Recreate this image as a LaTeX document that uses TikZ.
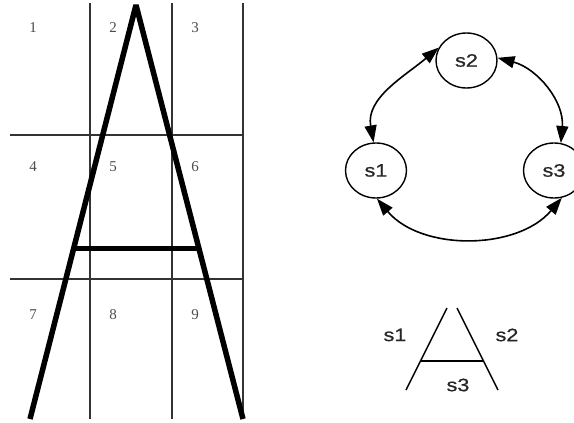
\documentclass[tikz,border=0pt]{standalone}
\usepackage{fontspec}
\setmainfont{Liberation Serif}
\newfontfamily\labfont[FakeStretch=1.2,FakeBold=0.8]{Liberation Sans}
\usetikzlibrary{arrows.meta,shapes.geometric,calc}
\begin{document}
\begin{tikzpicture}[x=1pt,y=-1pt,
  gridline/.style={line width=1.8pt,black!80},
  bigA/.style={line width=5.5pt,line join=bevel},
  num/.style={font=\fontsize{15}{15}\selectfont,text=black!70,inner sep=0pt},
  state/.style={draw,ellipse,line width=1.4pt,minimum width=61pt,minimum height=55pt,inner sep=0pt,font=\labfont\fontsize{18}{18}\selectfont,text=black!85},
  lab/.style={font=\labfont\fontsize{18}{18}\selectfont,text=black!85,inner sep=0pt},
  arr/.style={{Triangle[length=17pt,width=12pt]}-{Triangle[length=17pt,width=12pt]},line width=1.6pt},
  thin/.style={line width=1.5pt}]
\useasboundingbox (0,0) rectangle (574,423);
% grid
\draw[gridline] (90,3) -- (90,419);
\draw[gridline] (172,3) -- (172,419);
\draw[gridline] (243,3) -- (243,419);
\draw[gridline] (10,135) -- (243,135);
\draw[gridline] (10,279) -- (243,279);
% numbers
\node[num] (n1) at (33,28) {1};
\node[num] (n2) at (113,28) {2};
\node[num] (n3) at (195,28) {3};
\node[num] (n4) at (33,167) {4};
\node[num] (n5) at (113,167) {5};
\node[num] (n6) at (195,167) {6};
\node[num] (n7) at (33,315) {7};
\node[num] (n8) at (113,315) {8};
\node[num] (n9) at (195,315) {9};
% big A
\coordinate (AL) at (30,419);
\coordinate (AT) at (136,5);
\coordinate (AR) at (243,419);
\draw[bigA] (AL) -- (AT) -- (AR);
\draw[bigA] ($(AL)!0.4116!(AT)$) -- ($(AR)!0.4116!(AT)$);
% state graph
\node[state] (s2) at (466.5,60.5) {s2};
\node[state] (s1) at (376,170.5) {s1};
\node[state] (s3) at (554,170.5) {s3};
\draw[arr] (s1.95) to[out=100,in=220] (s2.155);
\draw[arr] (s2.5) to[out=-15,in=85] (s3.76);
\draw[arr] (s1.-88) to[out=-50,in=-130,looseness=0.95] (s3.-74);
% small A
\coordinate (bl) at (406,390);
\coordinate (bt1) at (447,308);
\coordinate (bt2) at (457,308);
\coordinate (br) at (498,390);
\draw[thin] (bl) -- (bt1);
\draw[thin] (bt2) -- (br);
\draw[thin] ($(bl)!0.354!(bt1)$) -- ($(br)!0.354!(bt2)$);
\node[lab] (t1) at (395,335) {s1};
\node[lab] (t2) at (507,335) {s2};
\node[lab] (t3) at (458,385) {s3};
\end{tikzpicture}
\end{document}
